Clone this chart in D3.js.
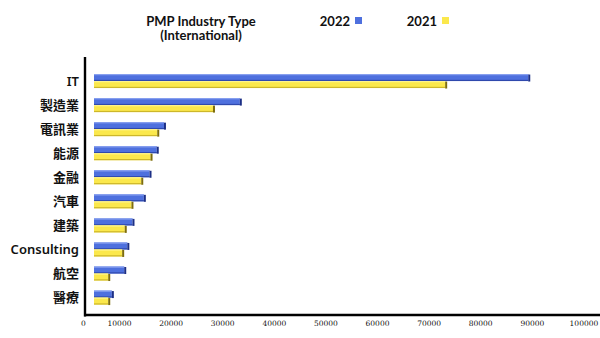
<!DOCTYPE html>
<html><head><meta charset="utf-8">
<script src="https://cdn.jsdelivr.net/npm/d3@7"></script>
<style>
html,body{margin:0;padding:0;background:#fff;}
svg{display:block;}
</style></head>
<body>
<svg id="chart" width="600" height="338"></svg>
<script>
// ---- data ----
const categories = ["IT","製造業","電訊業","能源","金融","汽車","建築","Consulting","航空","醫療"];
const seriesNames = ["2022","2021"];
const values2022 = [89700,33800,19100,17700,16300,15200,13000,12000,11400,9000];
const values2021 = [73600,28600,17800,16500,14700,12800,11500,11000,8300,8300];
const tickValues = [0,10000,20000,30000,40000,50000,60000,70000,80000,90000,100000];
const titleLines = ["PMP Industry Type","(International)"];

// ---- styles ----
const colors = {
  "2022": {face:"#4e70de", top:"#8aa2f0", bottom:"#2f49ad", cap:"#1c2f86"},
  "2021": {face:"#fbe84c", top:"#fff48c", bottom:"#cdb72b", cap:"#7e6d0c"}
};
const fontTitle = "Lato, 'Noto Sans', sans-serif";
const fontCJK = "'Noto Sans', 'Noto Sans CJK TC', sans-serif";

const svg = d3.select("#chart");

const x = d3.scaleLinear().domain([0,100000]).range([67.4,583.4]);
const y = d3.scaleBand().domain(categories).range([69,309.6]).paddingInner(0).paddingOuter(0);
const ySub = d3.scaleBand().domain(seriesNames).range([0,14]);

const floorX = 94; // bars start at plot floor inset
const capW = 2;

const table = categories.map((c,i)=>({cat:c, vals:[{s:"2022",v:values2022[i]},{s:"2021",v:values2021[i]}]}));

const groups = svg.append("g").selectAll("g").data(table).join("g")
  .attr("transform", d => `translate(0,${y(d.cat)+y.bandwidth()/2-7})`);

const bar = groups.selectAll("g").data(d=>d.vals).join("g")
  .attr("transform", d => `translate(0,${ySub(d.s)})`);

const bh = ySub.bandwidth();
bar.append("rect")
  .attr("x", floorX).attr("y", 0)
  .attr("width", d => x(d.v)-floorX-capW).attr("height", bh)
  .attr("fill", d => colors[d.s].face);
bar.append("rect")
  .attr("x", floorX).attr("y", 0)
  .attr("width", d => x(d.v)-floorX-capW).attr("height", 1.2)
  .attr("fill", d => colors[d.s].top);
bar.append("rect")
  .attr("x", floorX).attr("y", bh-1.2)
  .attr("width", d => x(d.v)-floorX-capW).attr("height", 1.2)
  .attr("fill", d => colors[d.s].bottom);
bar.append("rect")
  .attr("x", d => x(d.v)-capW).attr("y", 0.5)
  .attr("width", capW).attr("height", bh)
  .attr("fill", d => colors[d.s].cap);

// axis lines
svg.append("line").attr("x1",85).attr("x2",85).attr("y1",57).attr("y2",316.5)
  .attr("stroke","#000").attr("stroke-width",2.4);
svg.append("line").attr("x1",84).attr("x2",600).attr("y1",315).attr("y2",315)
  .attr("stroke","#000").attr("stroke-width",2.4);

// category labels
svg.append("g").selectAll("text").data(categories).join("text")
  .attr("x", 79).attr("y", d => y(d)+y.bandwidth()/2)
  .attr("dy","0.36em")
  .attr("text-anchor","end")
  .attr("font-family", fontCJK)
  .attr("font-size", 13)
  .attr("font-weight", 600)
  .attr("fill","#111")
  .text(d=>d);

// x axis tick labels
const xAxis = d3.axisBottom(x).tickValues(tickValues).tickSize(0).tickPadding(0)
  .tickFormat(d3.format("d"));
const gx = svg.append("g").attr("transform","translate(0,320)").call(xAxis);
gx.select(".domain").remove();
gx.selectAll("text")
  .attr("font-family","'DejaVu Serif', serif")
  .attr("font-size",7.5)
  .attr("fill","#111")
  .attr("dy","0.75em");
gx.selectAll(".tick").filter(d=>d===0).select("text").attr("dx",15.6);

// title
svg.append("g").selectAll("text").data(titleLines).join("text")
  .attr("text-anchor","middle")
  .attr("font-family",fontTitle).attr("font-size",13).attr("font-weight",700)
  .attr("fill","#111")
  .attr("x",201).attr("y",(d,i)=>25.5+i*14.7).text(d=>d);

// legend
const legendPos = {"2022":{tx:350, sx:355}, "2021":{tx:437, sx:442}};
const lg = svg.append("g").selectAll("g").data(seriesNames).join("g");
lg.append("text")
  .attr("x", d=>legendPos[d].tx).attr("y",25.5)
  .attr("text-anchor","end")
  .attr("font-family",fontTitle).attr("font-size",13).attr("font-weight",700)
  .attr("fill","#111").text(d=>d);
lg.append("rect")
  .attr("x", d=>legendPos[d].sx).attr("y",17)
  .attr("width",7).attr("height",7)
  .attr("fill", d=>colors[d].face);
</script>
</body></html>
